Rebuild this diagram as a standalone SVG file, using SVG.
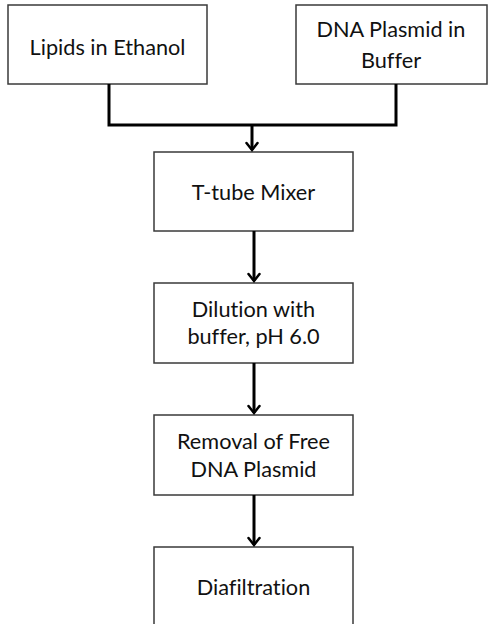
<svg xmlns="http://www.w3.org/2000/svg" width="488" height="624" viewBox="0 0 488 624">
<style>
.box{fill:#fff;stroke:#3a3a3a;stroke-width:1.5}
.lbl{font-family:Lato,"Open Sans",sans-serif;font-size:21.7px;fill:#111;text-anchor:middle;font-variant-ligatures:none}
.conn{fill:none;stroke:#000;stroke-width:3}
.head{fill:none;stroke:#000;stroke-width:2.5;stroke-linecap:round;stroke-linejoin:miter}
</style>
<rect width="488" height="624" fill="#fff"/>
<g id="lipids"><rect class="box" x="8" y="5" width="199" height="79"/><text class="lbl" x="107.5" y="55">Lipids in Ethanol</text></g>
<g id="dna"><rect class="box" x="296" y="5" width="191" height="79"/><text class="lbl" x="391" y="37">DNA Plasmid in</text><text class="lbl" x="391" y="68">Buffer</text></g>
<g id="ttube"><rect class="box" x="154" y="152" width="199" height="79"/><text class="lbl" x="253.5" y="200">T-tube Mixer</text></g>
<g id="dilution"><rect class="box" x="154" y="283" width="199" height="80"/><text class="lbl" x="253.5" y="317">Dilution with</text><text class="lbl" x="253.5" y="344">buffer, pH 6.0</text></g>
<g id="removal"><rect class="box" x="154" y="415" width="199" height="80"/><text class="lbl" x="253.5" y="449">Removal of Free</text><text class="lbl" x="253.5" y="477">DNA Plasmid</text></g>
<g id="diafiltration"><rect class="box" x="154" y="547" width="199" height="80"/><text class="lbl" x="253.5" y="595">Diafiltration</text></g>
<g id="connectors">
<path class="conn" d="M109 84V125H396V84"/>
<path class="conn" d="M252 125V150"/>
<path class="head" d="M246.5 143L252 150L257.5 143"/>
<path class="conn" d="M254 231V281"/>
<path class="head" d="M248.5 274L254 281L259.5 274"/>
<path class="conn" d="M254 363V413"/>
<path class="head" d="M248.5 406L254 413L259.5 406"/>
<path class="conn" d="M254 495V545"/>
<path class="head" d="M248.5 538L254 545L259.5 538"/>
</g>
</svg>
